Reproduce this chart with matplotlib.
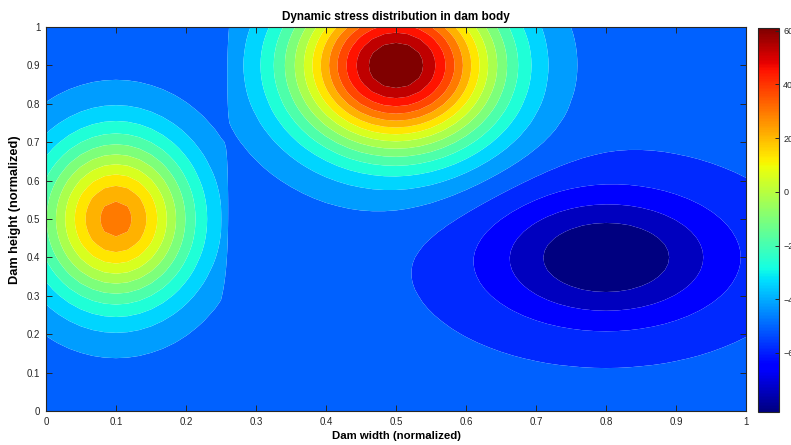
import numpy as np
import matplotlib
matplotlib.use("Agg")
import matplotlib.pyplot as plt
from matplotlib.colors import Normalize
from matplotlib.cm import ScalarMappable
from matplotlib.ticker import FuncFormatter

plt.rcParams['font.family'] = ['Liberation Sans', 'DejaVu Sans']

# Computational grid over the normalized dam section
n_grid = 61
x = np.linspace(0, 1, n_grid)
y = np.linspace(0, 1, n_grid)
X, Y = np.meshgrid(x, y)

# Background stress level and the zone split along the width
base_stress = -49.7
split_x = 0.25

# Stress concentrations: centre x, centre y, amplitude, spread x, spread y
left_source = [0.10, 0.50, 76.3, 0.080, 0.157]
top_source = [0.50, 0.90, 110.7, 0.105, 0.158]
low_source = [0.80, 0.40, -32.3, 0.124, 0.124]

x_ticks = [0, 0.1, 0.2, 0.3, 0.4, 0.5, 0.6, 0.7, 0.8, 0.9, 1]
y_ticks = [0, 0.1, 0.2, 0.3, 0.4, 0.5, 0.6, 0.7, 0.8, 0.9, 1]
cbar_ticks = [-60, -40, -20, 0, 20, 40, 60]
n_bands = 19


def bump(src):
    x0, y0, amp, sx, sy = src
    return amp * np.exp(-((X - x0) ** 2 / (2 * sx ** 2) + (Y - y0) ** 2 / (2 * sy ** 2)))


left_zone = X <= split_x
Z = base_stress + np.where(left_zone, bump(left_source),
                           bump(top_source) + bump(low_source))

zmin, zmax = Z.min(), Z.max()
levels = np.linspace(zmin, zmax, n_bands + 1)
cmap = plt.get_cmap('jet')
band_colors = [cmap(i / (n_bands - 1)) for i in range(n_bands)]

fig = plt.figure(figsize=(7.91, 4.45), dpi=100)
ax = fig.add_axes([46 / 791, 1 - 411 / 445, 700 / 791, 384 / 445])
cs = ax.contourf(X, Y, Z, levels=levels, colors=band_colors, antialiased=True)

ax.set_xlim(0, 1)
ax.set_ylim(0, 1)
ax.set_xticks(x_ticks)
ax.set_yticks(y_ticks)
fmt = FuncFormatter(lambda v, p: '%g' % v)
ax.xaxis.set_major_formatter(fmt)
ax.yaxis.set_major_formatter(fmt)
ax.tick_params(direction='in', top=True, right=True, length=4, width=0.7,
               labelsize=7, colors='#262626', pad=4)
for s in ax.spines.values():
    s.set_linewidth(0.8)
    s.set_color('#262626')

ax.set_title('Dynamic stress distribution in dam body', fontsize=8.5,
             fontweight='bold', pad=5)
ax.set_xlabel('Dam width (normalized)', fontsize=8.2, fontweight='bold', labelpad=3)
ax.set_ylabel('Dam height (normalized)', fontsize=9.2, fontweight='bold')
ax.yaxis.set_label_coords(-0.035, 0.523)

cax = fig.add_axes([758 / 791, 1 - 412 / 445, 21 / 791, 384 / 445])
sm = ScalarMappable(norm=Normalize(zmin, zmax), cmap=cmap)
cb = fig.colorbar(sm, cax=cax, ticks=cbar_ticks)
cb.outline.set_linewidth(0.8)
cb.outline.set_edgecolor('#262626')
cax.tick_params(direction='in', length=3, width=0.7, labelsize=6.5,
                colors='#262626', pad=3)

fig.savefig('out.png', dpi=100)
